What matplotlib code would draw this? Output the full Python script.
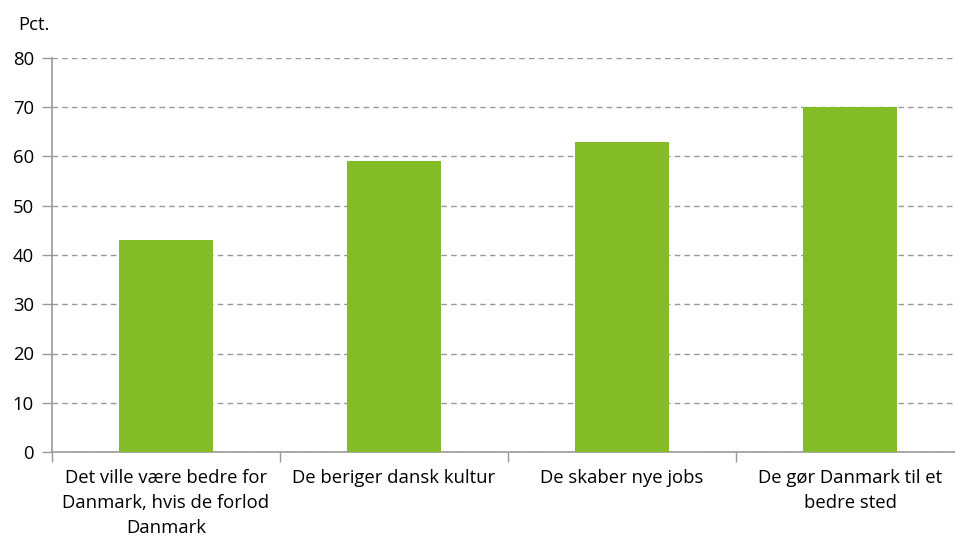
import matplotlib
matplotlib.use("Agg")
import matplotlib.pyplot as plt
import numpy as np

categories = ["Det ville være bedre for\nDanmark, hvis de forlod\nDanmark",
              "De beriger dansk kultur",
              "De skaber nye jobs",
              "De gør Danmark til et\nbedre sted"]
values = [43, 59, 63, 70]
yticks = [0, 10, 20, 30, 40, 50, 60, 70, 80]

plt.rcParams['font.family'] = ['Open Sans', 'DejaVu Sans']
fig = plt.figure(figsize=(9.55, 5.37), dpi=100)
W, H = 955, 537
left, right, top, bottom = 52, 964, 58, 452
ax = fig.add_axes([left / W, 1 - bottom / H, (right - left) / W, (bottom - top) / H])

x = np.arange(len(categories))
ax.bar(x, values, width=0.41, color='#84bc27', zorder=3)
ax.set_xlim(-0.5, len(categories) - 0.5)
ax.set_ylim(0, 80)
ax.set_yticks(yticks)
ax.tick_params(axis='y', labelsize=13.3, length=7, color='#999999', width=1, pad=6)
ax.set_xticks(x)
ax.set_xticklabels(categories, fontsize=13.3, linespacing=1.5)
ax.tick_params(axis='x', length=0, pad=12)
ax.set_xticks(np.arange(len(categories) + 1) - 0.5, minor=True)
ax.tick_params(axis='x', which='minor', length=7, color='#999999', width=1)
ax.yaxis.grid(True, linestyle=(0, (4, 3)), color='#999999', linewidth=1, zorder=0)
ax.set_axisbelow(True)
for s in ['top', 'right']:
    ax.spines[s].set_visible(False)
for s in ['left', 'bottom']:
    ax.spines[s].set_color('#999999')
    ax.spines[s].set_linewidth(1.2)
fig.text(18 / W, 1 - 25 / H, "Pct.", fontsize=13.3, va='center', ha='left')
fig.savefig("out.png", dpi=100)
